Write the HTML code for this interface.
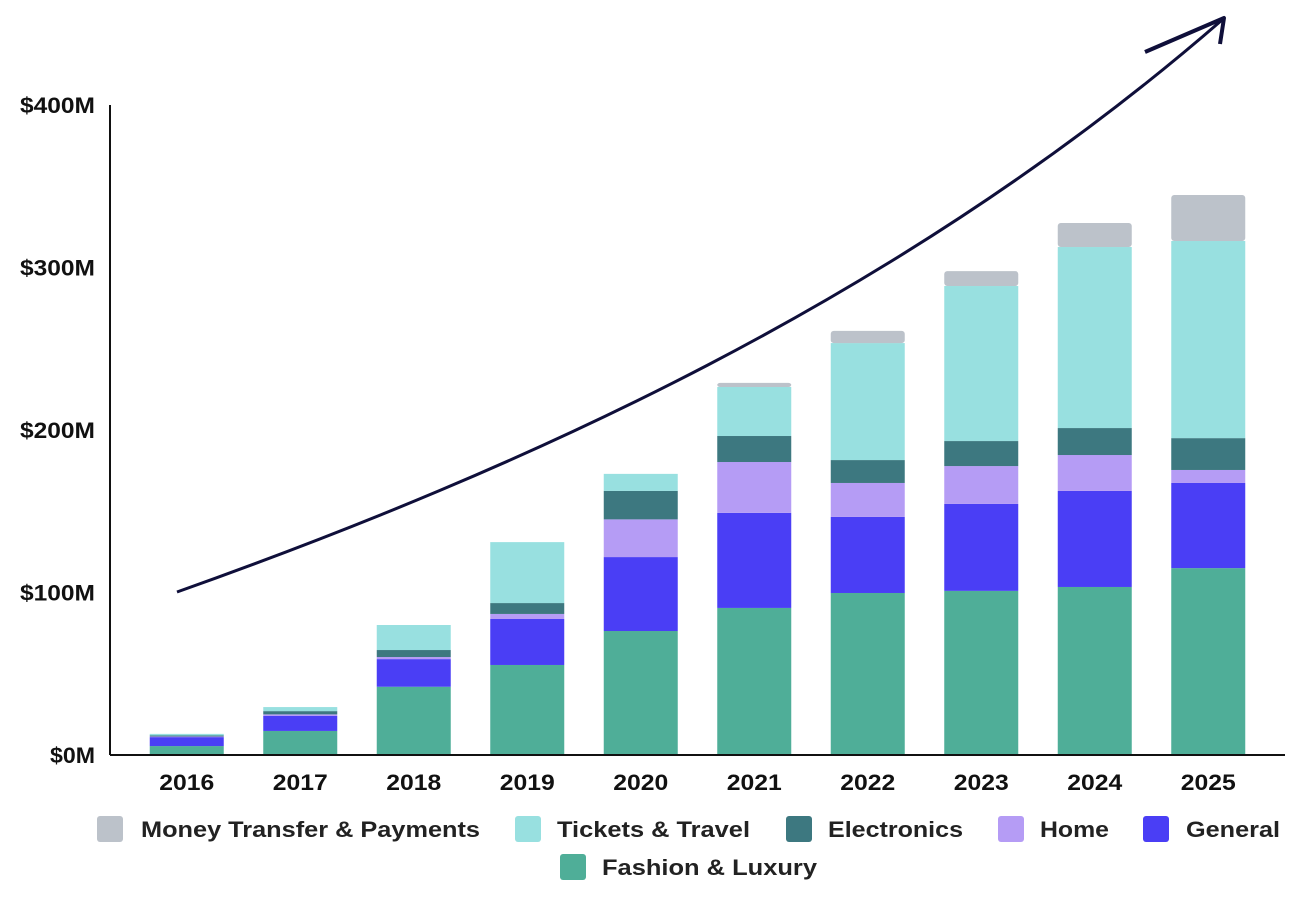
<!DOCTYPE html>
<html><head><meta charset="utf-8"><style>
body{margin:0;background:#fff;width:1302px;height:898px;overflow:hidden;font-family:"Liberation Sans",sans-serif}
</style></head><body>
<svg id="chart" width="1302" height="898" xmlns="http://www.w3.org/2000/svg">
<g id="bars"></g>
<line x1="110" y1="105" x2="110" y2="755" stroke="#111" stroke-width="2"/>
<line x1="110" y1="755" x2="1285" y2="755" stroke="#111" stroke-width="2"/>
<g id="yticks"></g>
<g id="xticks"></g>
<path d="M177,592 C520,470 900,300 1222,20" fill="none" stroke="#0f0f3a" stroke-width="3"/>
<path d="M1145,52 L1224,18 L1220,44" fill="none" stroke="#0f0f3a" stroke-width="4" stroke-linejoin="round"/>
<g id="legend"></g>
</svg>
<script>
const years=["2016","2017","2018","2019","2020","2021","2022","2023","2024","2025"];
const fashion=[5.5,14.8,42,55.4,76.3,90.5,99.7,101,103.4,115];
const general=[5.5,9.2,17,28.3,45.5,58.5,46.8,53.5,59.1,52.4];
const home=[0.4,1,1.3,3.1,23.2,31.3,20.9,23.3,22.1,8];
const electronics=[0.6,2,4.3,6.7,17.5,16,14.1,15.4,16.6,19.6];
const tickets=[1,2.5,15.4,37.5,10.5,30.2,72,95.4,111.4,121.3];
const money=[0,0,0,0,0,2.5,7.5,9.2,14.8,28.3];
const yTicks=[0,100,200,300,400];
const yTickLabels=["$0M","$100M","$200M","$300M","$400M"];
const seriesNames=["Fashion & Luxury","General","Home","Electronics","Tickets & Travel","Money Transfer & Payments"];
const seriesKeys=["fashion","general","home","electronics","tickets","money"];
const seriesData=[fashion,general,home,electronics,tickets,money];
const colors=["#4fae98","#4a3ef5","#b59cf5","#3d7880","#98e0e0","#bcc2ca"];
const NS="http://www.w3.org/2000/svg";
const y=v=>755-v*1.625;
const x=i=>110+113.5*(i+0.5)+20;
const bw=74;
const bars=document.getElementById('bars');
years.forEach((yr,i)=>{
  let cum=0;
  seriesData.forEach((s,k)=>{
    const v=s[i]; if(v<=0){return;}
    const r=document.createElementNS(NS,'rect');
    r.setAttribute('x',x(i)-bw/2);r.setAttribute('width',bw);
    r.setAttribute('y',y(cum+v));r.setAttribute('height',y(cum)-y(cum+v));
    r.setAttribute('fill',colors[k]);
    if(k===5){r.setAttribute('rx',3);}
    
    
    bars.appendChild(r);cum+=v;
  });
  const t=document.createElementNS(NS,'text');
  t.setAttribute('x',x(i));t.setAttribute('y',790);t.setAttribute('text-anchor','middle');
  t.setAttribute('font-size','22');t.setAttribute('font-weight','bold');t.setAttribute('fill','#111');
  t.setAttribute('textLength','55');t.setAttribute('lengthAdjust','spacingAndGlyphs');
  t.textContent=yr;
  
  
  document.getElementById('xticks').appendChild(t);
});
yTicks.forEach((v,i)=>{
  const t=document.createElementNS(NS,'text');
  t.setAttribute('x',95);t.setAttribute('y',y(v)+8);t.setAttribute('text-anchor','end');
  t.setAttribute('font-size','22');t.setAttribute('font-weight','bold');t.setAttribute('fill','#111');
  t.setAttribute('textLength',String(yTickLabels[i].length*15));t.setAttribute('lengthAdjust','spacingAndGlyphs');
  t.textContent=yTickLabels[i];
  
  
  document.getElementById('yticks').appendChild(t);
});
const legItems=[[5,97,141,829,339],[4,515,557,829,193],[3,786,828,829,135],[2,998,1040,829,69],[1,1143,1186,829,94],[0,560,602,867,215]];
const leg=document.getElementById('legend');
legItems.forEach(([k,sx,tx,cy,w])=>{
  const r=document.createElementNS(NS,'rect');
  r.setAttribute('x',sx);r.setAttribute('y',cy-13);r.setAttribute('width',26);r.setAttribute('height',26);r.setAttribute('rx',3);
  r.setAttribute('fill',colors[k]);
  
  
  leg.appendChild(r);
  const t=document.createElementNS(NS,'text');
  t.setAttribute('x',tx);t.setAttribute('y',cy+8);t.setAttribute('font-size','22');t.setAttribute('font-weight','bold');t.setAttribute('fill','#222');
  t.setAttribute('textLength',String(w));t.setAttribute('lengthAdjust','spacingAndGlyphs');
  t.textContent=seriesNames[k];
  
  
  leg.appendChild(t);
});
</script>
</body></html>
